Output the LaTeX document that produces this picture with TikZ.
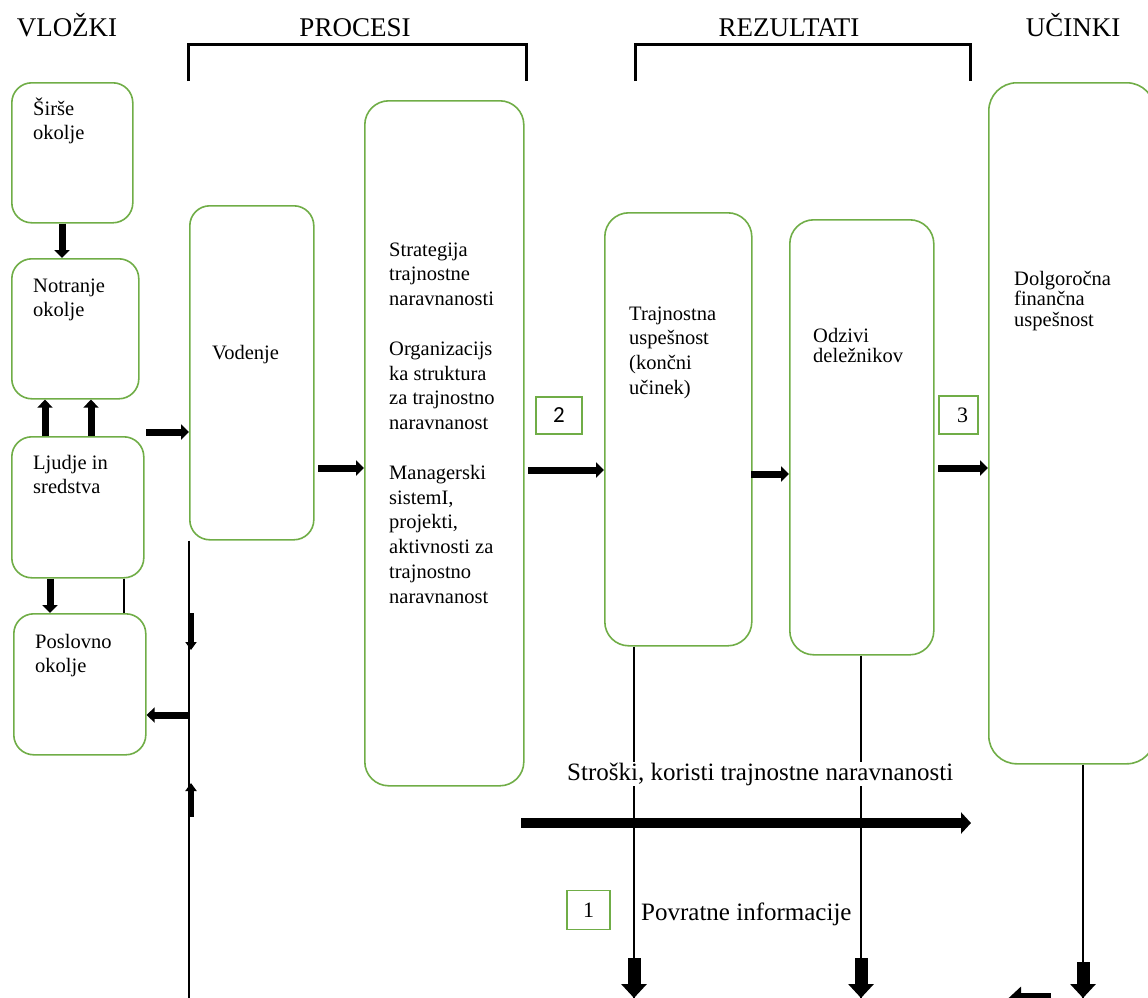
\documentclass[tikz,border=0pt]{standalone}
\usepackage{fontspec}
\setmainfont{Liberation Serif}
\newfontfamily\numfont{Carlito}
\usetikzlibrary{arrows.meta}
\definecolor{boxgreen}{RGB}{112,173,71}
\newcommand\boxlines[1]{\begin{tabular}[t]{@{}l@{}}#1\end{tabular}}
\begin{document}
\begin{tikzpicture}[x=1pt,y=-1pt,
  gbox/.style={draw=boxgreen, line width=1.6pt, rounded corners=20pt, inner sep=0pt, anchor=north west},
  numbox/.style={draw=boxgreen, line width=1.3pt, inner sep=0pt},
  txt/.style={anchor=base west, inner sep=0pt, font=\fontsize{20.5}{24.8}\selectfont},
  head/.style={anchor=base, inner sep=0pt, font=\fontsize{27}{30}\selectfont},
  big/.style={anchor=base west, inner sep=1pt, font=\fontsize{25}{28}\selectfont},
  fat/.style={line width=7pt, -{Triangle[length=8pt,width=15pt]}},
  slim/.style={line width=5pt, -{Triangle[length=8pt,width=11pt]}},
  heavy/.style={line width=13pt, -{Triangle[length=14pt,width=25pt]}},
  flow/.style={line width=10pt, -{Triangle[length=10pt,width=21pt]}},
  rule/.style={line width=1.5pt},
  bracket/.style={line width=3pt}]
\useasboundingbox (0,0) rectangle (1148,998);
\clip (0,0) rectangle (1148,998);

% column headings
\node[head] (h-in)  at (67,37)   {VLOŽKI};
\node[head] (h-pr)  at (355,37)  {PROCESI};
\node[head] (h-re)  at (789,37)  {REZULTATI};
\node[head] (h-uc)  at (1073,37) {UČINKI};
\draw[bracket] (188,81) -- (188,45) -- (526,45) -- (526,81);
\draw[bracket] (635,81) -- (635,45) -- (970,45) -- (970,81);

% input boxes
\node[gbox, minimum width=121pt, minimum height=140pt] (sirse)    at (11,82)  {};
\node[gbox, minimum width=127pt, minimum height=140pt] (notranje) at (11,258) {};
\node[gbox, minimum width=132pt, minimum height=141pt] (ljudje)   at (11,436) {};
\node[gbox, minimum width=132pt, minimum height=141pt] (poslovno) at (13,613) {};
\node[txt] (t-sirse)    at (33,115) {\boxlines{Širše\\okolje}};
\node[txt] (t-notranje) at (33,292) {\boxlines{Notranje\\okolje}};
\node[txt] (t-ljudje)   at (33,469) {\boxlines{Ljudje in\\sredstva}};
\node[txt] (t-poslovno) at (35,648) {\boxlines{Poslovno\\okolje}};

% process boxes
\node[gbox, minimum width=124pt, minimum height=334pt] (vodenje) at (189,205) {};
\node[gbox, rounded corners=24pt, minimum width=159pt, minimum height=685pt] (strategija) at (364,100) {};
\node[txt] (t-vodenje) at (212,359) {Vodenje};
\node[txt] (t-strategija) at (389,256) {\boxlines{Strategija\\trajnostne\\naravnanosti\\ \\Organizacijs\\ka struktura\\za trajnostno\\naravnanost\\ \\Managerski\\sistemI,\\projekti,\\aktivnosti za\\trajnostno\\naravnanost}};

% result and impact boxes
\node[gbox, rounded corners=24pt, minimum width=147pt, minimum height=433pt] (trajnostna) at (604,212) {};
\node[gbox, rounded corners=24pt, minimum width=144pt, minimum height=435pt] (odzivi) at (789,219) {};
\node[gbox, rounded corners=28pt, minimum width=166pt, minimum height=681pt] (dolgo) at (988,82) {};
\node[txt] (t-trajnostna) at (629,320) {\boxlines{Trajnostna\\uspešnost\\(končni\\učinek)}};
\node[txt, font=\fontsize{20.5}{20}\selectfont] (t-odzivi) at (813,342) {\boxlines{Odzivi\\deležnikov}};
\node[txt, font=\fontsize{20.5}{20.5}\selectfont] (t-dolgo) at (1014,285) {\boxlines{Dolgoročna\\finančna\\uspešnost}};

% numbered markers
\node[numbox, minimum width=46pt, minimum height=37pt, font=\numfont\fontsize{23}{24}\selectfont] (n2) at (559,415.5) {2};
\node[numbox, minimum width=39pt, minimum height=38pt, font=\fontsize{22}{24}\selectfont] (n3) at (958.5,415) {\hspace*{8pt}3};
\node[numbox, minimum width=43pt, minimum height=39pt, font=\fontsize{22}{24}\selectfont] (n1) at (588.5,910) {\raisebox{-4pt}{1}};

% arrows between the input boxes
\draw[fat] (sirse.south -| 62,0) -- (notranje.north -| 62,0);
\draw[fat] (ljudje.north -| 45,0) -- (notranje.south -| 45,0);
\draw[fat] (ljudje.north -| 91,0) -- (notranje.south -| 91,0);
\draw[fat] (ljudje.south -| 50,0) -- (poslovno.north -| 50,0);
\draw[rule] (ljudje.south -| 124,0) -- (poslovno.north -| 124,0);

% main flow from left to right
\coordinate (lv) at (146,432);
\draw[fat] (lv) -- (lv -| vodenje.west);
\coordinate (vs) at (318,468);
\draw[fat] (vs) -- (vs -| strategija.west);
\coordinate (st) at (528,470);
\draw[fat] (st) -- (st -| trajnostna.west);
\coordinate (to) at (751,474);
\draw[fat] (to) -- (to -| odzivi.west);
\coordinate (od) at (938,468);
\draw[fat] (od) -- (od -| dolgo.west);

% feedback line on the left
\coordinate (fb-top) at (vodenje.south west);
\coordinate (fb-end) at (189,1000);
\draw[rule] (fb-top) -- (fb-end);
\draw[slim] (191,613) -- (191,650);
\draw[slim] (191,817) -- (191,783);
\coordinate (fb-p) at (189,715);
\draw[fat] (fb-p) -- (fb-p -| poslovno.east);

% feedback lines below the results
\coordinate (tr-end) at (634,998);
\coordinate (od-end) at (861,998);
\coordinate (dg-end) at (1083,998);
\draw[rule] (trajnostna.south -| tr-end) -- (tr-end);
\draw[rule] (odzivi.south -| od-end) -- (od-end);
\draw[rule] (dolgo.south -| dg-end) -- (dg-end);
\draw[heavy] (634,958) -- (tr-end);
\draw[heavy] (861,958) -- (od-end);
\draw[heavy] (1083,962) -- (dg-end);
\coordinate (fb-r) at (1051,999.5);
\draw[heavy] (fb-r) -- (1007,999.5);

% costs and benefits
\node[big, fill=white] (costs) at (566,780) {Stroški, koristi trajnostne naravnanosti};
\coordinate (cb-a) at (521,823);
\coordinate (cb-b) at (971,823);
\draw[flow] (cb-a) -- (cb-b);
\node[big] (feedback) at (640,920) {Povratne informacije};
\end{tikzpicture}
\end{document}
